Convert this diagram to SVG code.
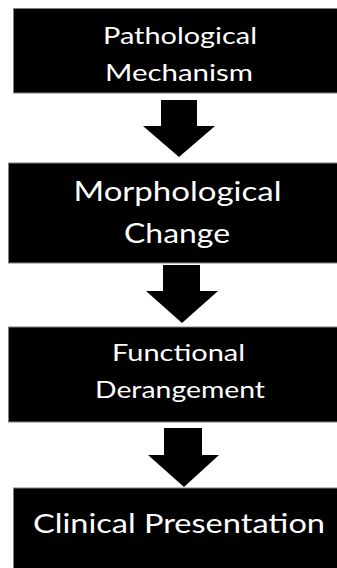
<svg xmlns="http://www.w3.org/2000/svg" width="337" height="568" viewBox="0 0 337 568">
<style>
.box{fill:#000;stroke:#808080;stroke-width:1}
.lbl{fill:#fff;font-family:Lato,"Open Sans","Liberation Sans",sans-serif;text-anchor:middle}
.arr{fill:#000}
</style>
<rect width="337" height="568" fill="#fff"/>
<g id="node-pathological">
<rect class="box" x="13.5" y="8.5" width="330" height="84.5"/>
<text class="lbl" x="180" y="44" font-size="24" textLength="154" lengthAdjust="spacingAndGlyphs">Pathological</text>
<text class="lbl" x="179" y="80.5" font-size="24" textLength="148" lengthAdjust="spacingAndGlyphs">Mechanism</text>
</g>
<g id="node-morphological">
<rect class="box" x="8.5" y="163" width="335" height="100"/>
<text class="lbl" x="177.5" y="201" font-size="27" textLength="208" lengthAdjust="spacingAndGlyphs">Morphological</text>
<text class="lbl" x="177" y="242.5" font-size="27" textLength="106" lengthAdjust="spacingAndGlyphs">Change</text>
</g>
<g id="node-functional">
<rect class="box" x="8.5" y="327" width="335" height="95"/>
<text class="lbl" x="178.5" y="361" font-size="23.5" textLength="133" lengthAdjust="spacingAndGlyphs">Functional</text>
<text class="lbl" x="180" y="397.5" font-size="23.5" textLength="170" lengthAdjust="spacingAndGlyphs">Derangement</text>
</g>
<g id="node-clinical">
<rect class="box" x="13.5" y="488" width="330" height="90"/>
<text class="lbl" x="179" y="533" font-size="27.5" textLength="292" lengthAdjust="spacingAndGlyphs">Clinical Presentation</text>
</g>
<g id="connectors">
<polygon class="arr" points="161,100 197,100 197,126 215,126 179,157 143,126 161,126"/>
<polygon class="arr" points="163,265 200,265 200,291 218,291 182,323 146,291 163,291"/>
<polygon class="arr" points="164,428 202,428 202,455 219,455 184,487 148,455 164,455"/>
</g>
</svg>
